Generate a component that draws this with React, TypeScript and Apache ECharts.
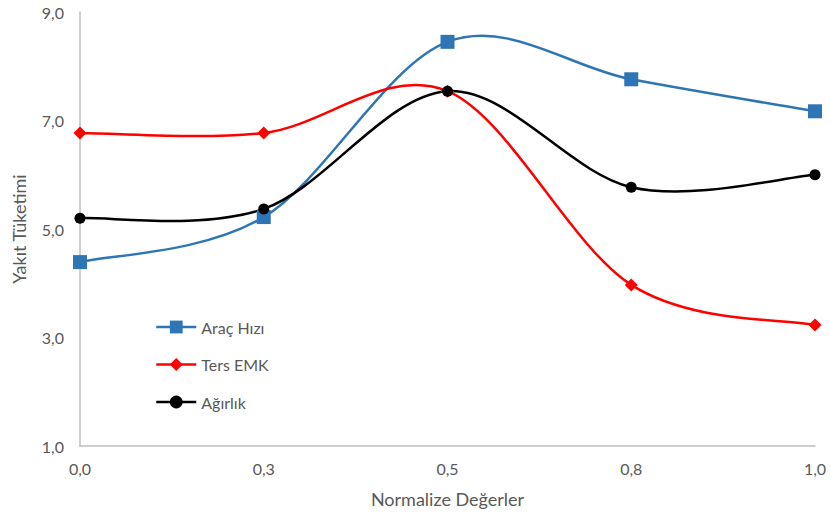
import React, { useEffect, useRef } from "react";
import * as echarts from "echarts";

const categories = ["0,0", "0,3", "0,5", "0,8", "1,0"];
const aracHizi = [4.39, 5.22, 8.45, 7.76, 7.17];
const tersEmk = [6.77, 6.77, 7.54, 3.97, 3.23];
const agirlik = [5.2, 5.37, 7.54, 5.77, 6.0];

const FONT = "Lato, 'Open Sans', sans-serif";
const LABEL = "#595959";

function curveSeries(name: string, vals: number[], color: string) {
  return {
    name,
    type: "custom",
    z: 1,
    silent: true,
    data: vals.map((v, i) => [i, v]),
    encode: { x: 0, y: 1 },
    renderItem: (params: any, api: any) => {
      if (params.dataIndex !== 0) return null;
      const pts = vals.map((v, i) => api.coord([i, v]));
      const n = pts.length;
      const children: any[] = [];
      for (let i = 0; i < n - 1; i++) {
        const p0 = pts[Math.max(i - 1, 0)];
        const p1 = pts[i];
        const p2 = pts[i + 1];
        const p3 = pts[Math.min(i + 2, n - 1)];
        children.push({
          type: "bezierCurve",
          shape: {
            x1: p1[0],
            y1: p1[1],
            x2: p2[0],
            y2: p2[1],
            cpx1: p1[0] + (p2[0] - p0[0]) / 6,
            cpy1: p1[1] + (p2[1] - p0[1]) / 6,
            cpx2: p2[0] - (p3[0] - p1[0]) / 6,
            cpy2: p2[1] - (p3[1] - p1[1]) / 6,
          },
          style: { stroke: color, lineWidth: 2.5, fill: null },
        });
      }
      return { type: "group", children };
    },
  };
}

export default function App() {
  const ref = useRef<HTMLDivElement>(null);
  useEffect(() => {
    if (!ref.current) return;
    const chart = echarts.init(ref.current, undefined, { renderer: "svg" });
    const mk = (name: string, data: number[], color: string, symbol: string, size: number) => ({
      name,
      type: "line",
      z: 3,
      data,
      symbol,
      symbolSize: size,
      lineStyle: { color, width: 2.5, opacity: 0 },
      itemStyle: { color },
    });
    chart.setOption({
      animation: false,
      textStyle: { fontFamily: FONT },
      grid: { left: 80, right: 15, top: 12, bottom: 69 },
      legend: {
        orient: "vertical",
        left: 150,
        top: 314,
        itemGap: 21.5,
        itemWidth: 40,
        itemHeight: 16,
        textStyle: { color: LABEL, fontSize: 16, fontFamily: FONT },
        data: [
          { name: "Araç Hızı", lineStyle: { color: "#2e75b6", width: 2.5, opacity: 1 } },
          { name: "Ters EMK", lineStyle: { color: "#ff0000", width: 2.5, opacity: 1 } },
          { name: "Ağırlık", lineStyle: { color: "#000000", width: 2.5, opacity: 1 } },
        ],
      },
      xAxis: {
        type: "category",
        data: categories,
        boundaryGap: false,
        name: "Normalize Değerler",
        nameLocation: "middle",
        nameGap: 44,
        nameTextStyle: { color: LABEL, fontSize: 18, fontFamily: FONT },
        axisLine: { lineStyle: { color: "#bfbfbf", width: 1.5 } },
        axisTick: { show: false },
        axisLabel: { color: LABEL, fontSize: 16, margin: 14, fontFamily: FONT },
        splitLine: { show: false },
      },
      yAxis: {
        type: "value",
        min: 1,
        max: 9,
        interval: 2,
        name: "Yakıt Tüketimi",
        nameLocation: "middle",
        nameGap: 52,
        nameTextStyle: { color: LABEL, fontSize: 18, fontFamily: FONT },
        axisLine: { show: true, lineStyle: { color: "#bfbfbf", width: 1.5 } },
        axisTick: { show: false },
        splitLine: { show: false },
        axisLabel: {
          color: LABEL,
          fontSize: 16,
          margin: 16,
          fontFamily: FONT,
          formatter: (v: number) => v.toFixed(1).replace(".", ","),
        },
      },
      series: [
        curveSeries("c1", aracHizi, "#2e75b6"),
        curveSeries("c2", tersEmk, "#ff0000"),
        curveSeries("c3", agirlik, "#000000"),
        mk("Araç Hızı", aracHizi, "#2e75b6", "rect", 14),
        mk("Ters EMK", tersEmk, "#ff0000", "diamond", 13),
        mk("Ağırlık", agirlik, "#000000", "circle", 11),
      ],
    });
    return () => chart.dispose();
  }, []);
  return <div ref={ref} style={{ width: 830, height: 515, position: "absolute", left: 0, top: 0 }} />;
}
